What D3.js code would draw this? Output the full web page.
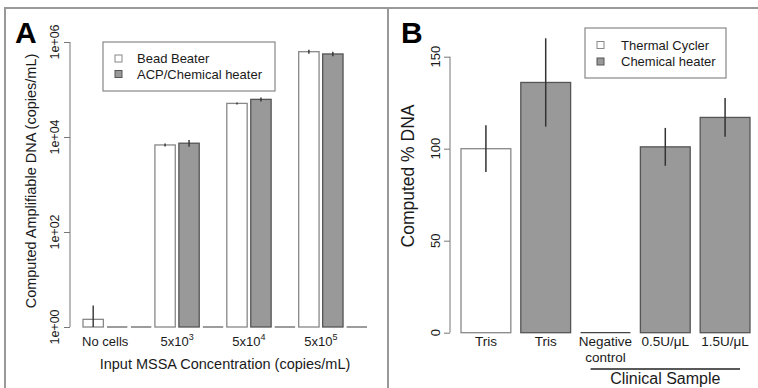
<!DOCTYPE html>
<html>
<head>
<meta charset="utf-8">
<script src="https://cdn.jsdelivr.net/npm/d3@7"></script>
<style>
  body { margin: 0; background: #fff; }
  svg text { font-family: "Liberation Sans", Arial, sans-serif; fill: #1a1a1a; }
</style>
</head>
<body>
<svg id="chart" width="758" height="388"></svg>
<script>
// ---- panel A data (log scale, copies/mL) ----
const categoriesA = ["No cells", "5x10^3", "5x10^4", "5x10^5"];
const seriesA = ["Bead Beater", "ACP/Chemical heater", "none"];
const beadBeater = [1.45, 6800, 51000, 625000];
const beadBeaterErr = [1.4, 500, 2500, 60000];
const chemHeaterA = [0, 7400, 62000, 560000];
const chemHeaterAErr = [0, 1200, 6000, 60000];
const emptySeries = [0, 0, 0, 0];
const ticksA = [1, 100, 10000, 1000000];
const tickLabelsA = ["1e+00", "1e+02", "1e+04", "1e+06"];

// ---- panel B data (% DNA) ----
const categoriesB = ["Tris", "Tris", "Negative|control", "0.5U/\u03bcL", "1.5U/\u03bcL"];
const groupB = ["Thermal Cycler", "Chemical heater", "Chemical heater", "Chemical heater", "Chemical heater"];
const percentDNA = [100, 136, 0, 101, 117];
const percentErr = [12.7, 24, 0, 10.3, 10.5];
const ticksB = [0, 50, 100, 150];
const legendB = ["Thermal Cycler", "Chemical heater"];

const colors = { "Bead Beater": "#fff", "ACP/Chemical heater": "#999", "none": "#fff",
  "Thermal Cycler": "#fff", "Chemical heater": "#999" };
const strokes = { "#fff": "#888", "#999": "#555" };

const svg = d3.select('#chart');

// frame lines
svg.append('path')
  .attr('d', 'M5,388V8H758M388,8V388')
  .attr('fill', 'none')
  .attr('stroke', '#999')
  .attr('stroke-width', 2);

// =========== Panel A ===========
const yA = d3.scaleLog().domain([1, 1e6]).range([327, 42]);
const barsA = [];
categoriesA.forEach((c, gi) => {
  [beadBeater, chemHeaterA, emptySeries].forEach((arr, si) => {
    const err = si === 0 ? beadBeaterErr[gi] : si === 1 ? chemHeaterAErr[gi] : 0;
    barsA.push({ key: gi * 3 + si, series: seriesA[si], value: arr[gi], err: err });
  });
});
const xA = d3.scaleBand()
  .domain(barsA.map(d => d.key))
  .range([83, 367])
  .paddingInner(0.15)
  .paddingOuter(0);

const gA = svg.append('g');

gA.selectAll('rect.bar')
  .data(barsA.filter(d => d.value > 1))
  .enter()
  .append('rect')
  .attr('x', d => xA(d.key))
  .attr('width', xA.bandwidth())
  .attr('y', d => yA(d.value))
  .attr('height', d => yA(1) - yA(d.value))
  .attr('fill', d => colors[d.series])
  .attr('stroke', d => strokes[colors[d.series]])
  .attr('stroke-width', 1.3);

// zero bars drawn as flat lines
gA.selectAll('line.zero')
  .data(barsA.filter(d => d.value <= 1))
  .enter()
  .append('line')
  .attr('x1', d => xA(d.key))
  .attr('x2', d => xA(d.key) + xA.bandwidth())
  .attr('y1', yA(1))
  .attr('y2', yA(1))
  .attr('stroke', '#666')
  .attr('stroke-width', 1.3);

gA.selectAll('line.err')
  .data(barsA.filter(d => d.err > 0))
  .enter()
  .append('line')
  .attr('x1', d => xA(d.key) + xA.bandwidth() / 2)
  .attr('x2', d => xA(d.key) + xA.bandwidth() / 2)
  .attr('y1', d => yA(d.value + d.err))
  .attr('y2', d => yA(Math.max(1, d.value - d.err)))
  .attr('stroke', '#333')
  .attr('stroke-width', 1.4);

// y axis A
const axisA = gA.append('g')
  .attr('transform', 'translate(70,0)')
  .call(d3.axisLeft(yA).tickValues(ticksA).tickSize(6).tickFormat(''));
axisA.selectAll('line, path').attr('stroke', '#777');
axisA.select('.domain').attr('d', `M0,${yA(1)}V${yA(1e6)}`);

gA.selectAll('text.tick')
  .data(ticksA)
  .enter()
  .append('text')
  .attr('transform', (d) => `translate(59,${yA(d)}) rotate(-90)`)
  .attr('text-anchor', 'middle')
  .attr('font-size', 12.5)
  .text((d, i) => tickLabelsA[i]);

// category labels with superscripts
const labA = gA.selectAll('text.cat')
  .data(categoriesA)
  .enter()
  .append('text')
  .attr('x', (d, i) => xA(i * 3) + xA.step() / 2 + xA.bandwidth() / 2)
  .attr('y', 346)
  .attr('text-anchor', 'middle')
  .attr('font-size', 13);
labA.each(function (d) {
  const parts = d.split('^');
  const t = d3.select(this);
  t.append('tspan').text(parts[0]);
  if (parts[1]) {
    t.append('tspan').attr('dy', -6).attr('font-size', 9).text(parts[1]);
  }
});

gA.append('text')
  .attr('x', 225)
  .attr('y', 369)
  .attr('text-anchor', 'middle')
  .attr('font-size', 14.5)
  .text('Input MSSA Concentration (copies/mL)');

gA.append('text')
  .attr('transform', 'translate(36,181) rotate(-90)')
  .attr('text-anchor', 'middle')
  .attr('font-size', 14.5)
  .text('Computed Amplifiable DNA (copies/mL)');

gA.append('text')
  .attr('x', 15)
  .attr('y', 43)
  .attr('font-size', 30)
  .attr('font-weight', 'bold')
  .style('fill', '#000')
  .text('A');

// legend A
const legA = gA.append('g');
legA.append('rect')
  .attr('x', 103).attr('y', 42).attr('width', 172).attr('height', 49)
  .attr('fill', '#fff').attr('stroke', '#888').attr('stroke-width', 1.2);
seriesA.slice(0, 2).forEach((s, i) => {
  legA.append('rect')
    .attr('x', 115).attr('y', 55 + i * 15.5).attr('width', 7).attr('height', 7)
    .attr('fill', colors[s]).attr('stroke', strokes[colors[s]]);
  legA.append('text')
    .attr('x', 137).attr('y', 63 + i * 15.5)
    .attr('font-size', 13)
    .text(s);
});

// =========== Panel B ===========
const yB = d3.scaleLinear().domain([0, 150]).range([332.7, 56.7]);
const xB = d3.scaleBand()
  .domain(d3.range(categoriesB.length))
  .range([461, 750])
  .paddingInner(1 / 6)
  .paddingOuter(0);

const gB = svg.append('g');
const barsB = percentDNA.map((v, i) => ({ i: i, value: v, err: percentErr[i], group: groupB[i] }));

gB.selectAll('rect.bar')
  .data(barsB.filter(d => d.value > 0))
  .enter()
  .append('rect')
  .attr('x', d => xB(d.i))
  .attr('width', xB.bandwidth())
  .attr('y', d => yB(d.value))
  .attr('height', d => yB(0) - yB(d.value))
  .attr('fill', d => colors[d.group])
  .attr('stroke', d => strokes[colors[d.group]])
  .attr('stroke-width', 1.3);

gB.selectAll('line.zero')
  .data(barsB.filter(d => d.value === 0))
  .enter()
  .append('line')
  .attr('x1', d => xB(d.i))
  .attr('x2', d => xB(d.i) + xB.bandwidth())
  .attr('y1', yB(0))
  .attr('y2', yB(0))
  .attr('stroke', '#444')
  .attr('stroke-width', 1.3);

gB.selectAll('line.err')
  .data(barsB.filter(d => d.err > 0))
  .enter()
  .append('line')
  .attr('x1', d => xB(d.i) + xB.bandwidth() / 2)
  .attr('x2', d => xB(d.i) + xB.bandwidth() / 2)
  .attr('y1', d => yB(d.value + d.err))
  .attr('y2', d => yB(d.value - d.err))
  .attr('stroke', '#333')
  .attr('stroke-width', 1.5);

const axisB = gB.append('g')
  .attr('transform', 'translate(450,0)')
  .call(d3.axisLeft(yB).tickValues(ticksB).tickSize(6).tickFormat(''));
axisB.selectAll('line, path').attr('stroke', '#777');
axisB.select('.domain').attr('d', `M0,${yB(0)}V${yB(150)}`);

gB.selectAll('text.tick')
  .data(ticksB)
  .enter()
  .append('text')
  .attr('transform', d => `translate(440,${yB(d)}) rotate(-90)`)
  .attr('text-anchor', 'middle')
  .attr('font-size', 13)
  .text(d => d);

gB.selectAll('text.cat')
  .data(categoriesB)
  .enter()
  .append('text')
  .attr('x', (d, i) => xB(i) + xB.bandwidth() / 2)
  .attr('y', 346)
  .attr('text-anchor', 'middle')
  .attr('font-size', 13.5)
  .each(function (d) {
    const t = d3.select(this);
    d.split('|').forEach((line, k) => {
      t.append('tspan')
        .attr('x', t.attr('x'))
        .attr('dy', k === 0 ? 0 : 16)
        .text(line);
    });
  });

// "Clinical Sample" bracket under the last three bars
gB.append('line')
  .attr('x1', xB(2) + 10).attr('x2', xB(4) + xB.bandwidth() - 10)
  .attr('y1', 369).attr('y2', 369)
  .attr('stroke', '#222').attr('stroke-width', 1.3);
gB.append('text')
  .attr('x', (xB(2) + xB(4) + xB.bandwidth()) / 2)
  .attr('y', 384)
  .attr('text-anchor', 'middle')
  .attr('font-size', 16)
  .text('Clinical Sample');

gB.append('text')
  .attr('transform', 'translate(414,176) rotate(-90)')
  .attr('text-anchor', 'middle')
  .attr('font-size', 17.5)
  .text('Computed % DNA');

gB.append('text')
  .attr('x', 401)
  .attr('y', 43)
  .attr('font-size', 30)
  .attr('font-weight', 'bold')
  .style('fill', '#000')
  .text('B');

const legB = gB.append('g');
legB.append('rect')
  .attr('x', 585).attr('y', 28).attr('width', 141).attr('height', 50)
  .attr('fill', '#fff').attr('stroke', '#888').attr('stroke-width', 1.2);
legendB.forEach((s, i) => {
  legB.append('rect')
    .attr('x', 597).attr('y', 41.5 + i * 16.5).attr('width', 7).attr('height', 7)
    .attr('fill', colors[s]).attr('stroke', strokes[colors[s]]);
  legB.append('text')
    .attr('x', 621).attr('y', 49.5 + i * 16.5)
    .attr('font-size', 13)
    .text(s);
});
</script>
</body>
</html>
